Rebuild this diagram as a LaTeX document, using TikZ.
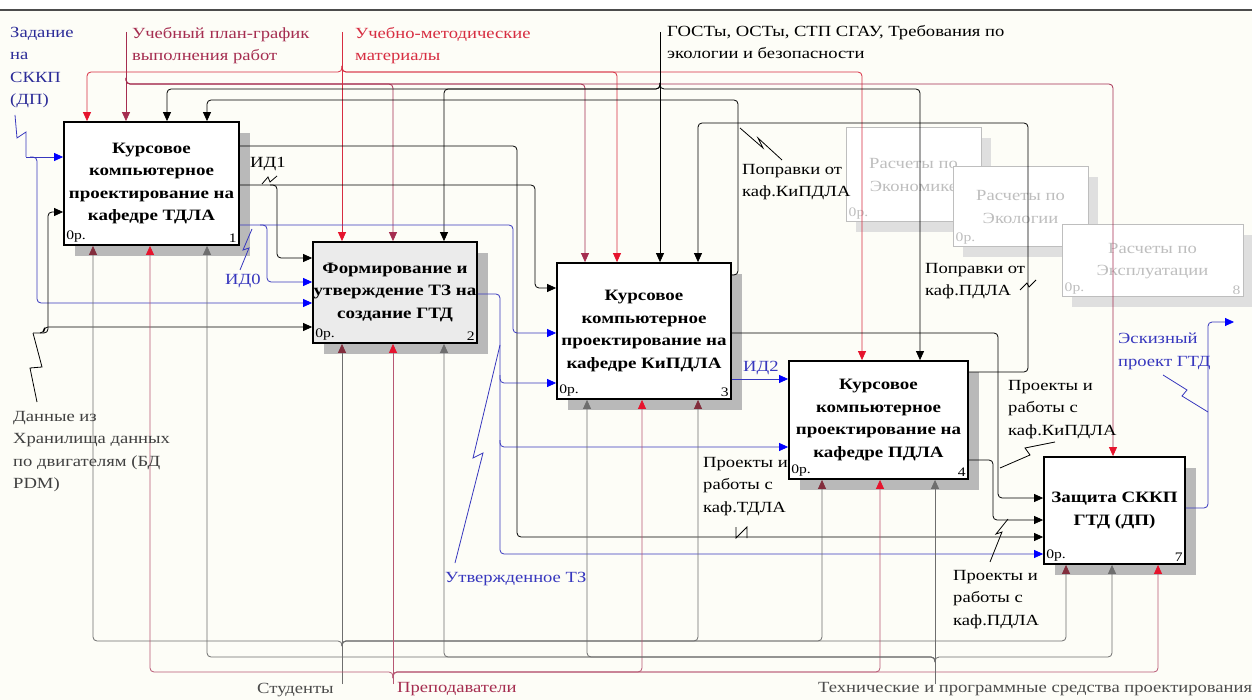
\documentclass[tikz,border=0pt]{standalone}
\usepackage{fontspec}
\setmainfont{Liberation Serif}[FakeStretch=1.2]
\usetikzlibrary{arrows.meta,shadows}

\definecolor{idred}{RGB}{215,45,65}
\definecolor{idmaroon}{RGB}{165,45,80}
\definecolor{idblue}{RGB}{55,55,190}
\definecolor{idgrey}{RGB}{110,110,110}
\definecolor{idfade}{RGB}{190,190,190}
\definecolor{tipred}{RGB}{230,20,45}
\definecolor{tipbrown}{RGB}{130,45,60}
\definecolor{paper}{RGB}{253,253,247}

\tikzset{
  func/.style={draw, line width=1.8pt, fill=white, align=center, inner sep=0pt,
    font=\fontsize{15.8}{22.5}\selectfont\bfseries,
    drop shadow={shadow xshift=11pt, shadow yshift=-11pt, fill=gray!55, opacity=1}},
  ghost/.style={draw=idfade, line width=1pt, fill=white, align=center, inner sep=0pt,
    text=idfade, drop shadow={shadow xshift=10pt, shadow yshift=-10pt, fill=gray!25, opacity=1}},
  corner/.style={font=\fontsize{13}{15}\selectfont, inner sep=3pt},
  lbl/.style={anchor=north west, inner sep=0pt, align=left},
  link/.style={line width=0.8pt, rounded corners=4pt},
  ahead/.style={link, -{Triangle[length=9pt,width=8pt,color=#1]}},
  squig/.style={line width=0.8pt},
}

\begin{document}
\begin{tikzpicture}[x=1pt, y=-1pt, font=\fontsize{15.5}{22.5}\selectfont]
\useasboundingbox (0,0) rectangle (1252,700);
\fill[paper] (0,10) rectangle (1252,700);
\draw[gray!60!black, line width=1.2pt] (0,10) -- (1252,10);

% decomposition boxes not in this diagram
\node[ghost, minimum width=135pt, minimum height=94pt] (calcA) at (913.5,175) {Расчеты по\\Экономике};
\node[corner, text=idfade, anchor=south west] (calcAp) at (calcA.south west) {0р.};
\node[corner, text=idfade, anchor=south east] (calcAn) at (calcA.south east) {5};
\node[ghost, minimum width=135pt, minimum height=80pt] (calcB) at (1020.5,207) {Расчеты по\\Экологии};
\node[corner, text=idfade, anchor=south west] (calcBp) at (calcB.south west) {0р.};
\node[corner, text=idfade, anchor=south east] (calcBn) at (calcB.south east) {6};
\node[ghost, minimum width=181pt, minimum height=72pt] (calcC) at (1152.5,261) {Расчеты по\\Эксплуатации};
\node[corner, text=idfade, anchor=south west] (calcCp) at (calcC.south west) {0р.};
\node[corner, text=idfade, anchor=south east] (calcCn) at (calcC.south east) {8};

% functions
\node[func, minimum width=175pt, minimum height=123pt] (tdla) at (151.5,183.5) {Курсовое\\компьютерное\\проектирование на\\кафедре ТДЛА};
\node[func, fill=gray!16, minimum width=164pt, minimum height=101pt] (tz) at (395,292.5) {Формирование и\\утверждение ТЗ на\\создание ГТД};
\node[func, minimum width=174pt, minimum height=136pt] (kipdla) at (644,331) {Курсовое\\компьютерное\\проектирование на\\кафедре КиПДЛА};
\node[func, minimum width=179pt, minimum height=118pt] (pdla) at (878.5,420) {Курсовое\\компьютерное\\проектирование на\\кафедре ПДЛА};
\node[func, minimum width=141pt, minimum height=107pt] (zashita) at (1114.5,510.5) {Защита СККП\\ГТД (ДП)};
\foreach \b/\n in {tdla/1, tz/2, kipdla/3, pdla/4, zashita/7} {
  \node[corner, anchor=south west] (\b p) at (\b.south west) {0р.};
  \node[corner, anchor=south east] (\b n) at (\b.south east) {\n};
}

% controls
\draw[ahead=idmaroon, idmaroon] (126,32) -- (tdla.north -| 126,0);
\draw[ahead=idmaroon, idmaroon] (126,78) |- (393,84) -- (tz.north -| 393,0);
\draw[ahead=idmaroon, idmaroon] (126,78) |- (585,84) -- (kipdla.north -| 585,0);
\draw[ahead=tipred, idmaroon] (126,78) |- (1113,84) -- (zashita.north -| 1113,0);
\draw[ahead=tipred, idred] (342,32) -- (tz.north -| 342,0);
\draw[ahead=tipred, idred] (342,66) |- (87,72) -- (tdla.north -| 87,0);
\draw[ahead=tipred, idred] (342,66) |- (617,72) -- (kipdla.north -| 617,0);
\draw[ahead=tipred, idred] (342,66) |- (862,72) -- (pdla.north -| 862,0);
\draw[ahead=black] (660,32) -- (kipdla.north -| 660,0);
\draw[ahead=black] (660,83) |- (167,89) -- (tdla.north -| 167,0);
\draw[ahead=black] (660,83) |- (444,89) -- (tz.north -| 444,0);
\draw[ahead=black] (660,83) |- (920,89) -- (pdla.north -| 920,0);

% feedback
\draw[ahead=black] (kipdla.east |- 0,275) -| (738,100) -| (tdla.north -| 207,0);
\draw[ahead=black] (pdla.east |- 0,372) -| (1028,123) -| (kipdla.north -| 698,0);

% inputs from outside
\draw[squig, idblue] (15,115) -- (17,138) -- (26,132) -- (26,157);
\draw[ahead=blue, idblue] (26,157) -- (tdla.west |- 0,157);
\draw[ahead=blue, idblue] (30,157) -| (37,303) -- (tz.west |- 0,303);
\draw[squig] (37,402) -- (30,368) -- (42,367) -- (33,333);
\draw[ahead=black] (33,333) -| (48,212) -- (tdla.west |- 0,212);
\draw[ahead=black] (40,333) -- (44,333) |- (tz.west |- 0,327);

% outputs and links
\draw[ahead=black] (tdla.east |- 0,146) -| (517,537) -- (zashita.west |- 0,537);
\draw[ahead=black] (tdla.east |- 0,185) -| (535,288) -- (kipdla.west |- 0,288);
\draw[ahead=black] (270,185) -| (277,258) -- (tz.west |- 0,258);
\draw[ahead=blue, idblue] (tdla.east |- 0,225) -| (513,333) -- (kipdla.west |- 0,333);
\draw[ahead=blue, idblue] (260,225) -| (267,282) -- (tz.west |- 0,282);
\draw[ahead=blue, idblue] (tz.east |- 0,294) -| (500,383) -- (kipdla.west |- 0,383);
\draw[ahead=blue, idblue] (500,375) |- (pdla.west |- 0,447);
\draw[ahead=blue, idblue] (500,440) |- (zashita.west |- 0,554);
\draw[ahead=black] (kipdla.east |- 0,333) -| (998,498) -- (zashita.west |- 0,498);
\draw[ahead=blue, idblue] (kipdla.east |- 0,379) -- (pdla.west |- 0,379);
\draw[ahead=black] (pdla.east |- 0,460) -| (993,520) -- (zashita.west |- 0,520);
\coordinate (eskiz) at (1234,322);
\draw[ahead=blue, idblue] (zashita.east |- 0,508) -| (1208,322) -- (eskiz);

% mechanisms
\draw[ahead=tipbrown, idgrey] (342,684) -- (tz.south -| 342,0);
\draw[ahead=tipbrown, idgrey] (342,646) |- (93,641) -- (tdla.south -| 93,0);
\draw[ahead=tipbrown, idgrey] (342,646) |- (698,641) -- (kipdla.south -| 698,0);
\draw[ahead=tipbrown, idgrey] (342,646) |- (822,641) -- (pdla.south -| 822,0);
\draw[ahead=tipbrown, idgrey] (342,646) |- (1066,641) -- (zashita.south -| 1066,0);
\draw[ahead=tipred, idmaroon!80] (393,684) -- (tz.south -| 393,0);
\draw[ahead=tipred, idmaroon!80] (393,678) |- (150,672) -- (tdla.south -| 150,0);
\draw[ahead=tipred, idmaroon!80] (393,678) |- (642,672) -- (kipdla.south -| 642,0);
\draw[ahead=tipred, idmaroon!80] (393,678) |- (880,672) -- (pdla.south -| 880,0);
\draw[ahead=tipred, idmaroon!80] (393,678) |- (1158,672) -- (zashita.south -| 1158,0);
\draw[ahead=idgrey, idgrey] (935,684) -- (pdla.south -| 935,0);
\draw[ahead=idgrey, idgrey] (935,662) |- (207,657) -- (tdla.south -| 207,0);
\draw[ahead=idgrey, idgrey] (935,662) |- (444,657) -- (tz.south -| 444,0);
\draw[ahead=idgrey, idgrey] (935,662) |- (587,657) -- (kipdla.south -| 587,0);
\draw[ahead=idgrey, idgrey] (935,662) |- (1112,657) -- (zashita.south -| 1112,0);

% label squiggles
\draw[squig] (262,184) -- (268,177) -- (270,182) -- (277,176);
\draw[squig, idblue] (240,270) -- (249,248) -- (243,250) -- (252,229);
\draw[squig] (740,128) -- (763,148) -- (758,138) -- (782,160);
\draw[squig] (1020,290) -- (1027,283) -- (1029,287) -- (1036,280);
\draw[squig, idblue] (1163,375) -- (1187,390) -- (1182,396) -- (1208,412);
\draw[squig] (1000,468) -- (1030,455) -- (1025,448) -- (1055,442);
\draw[squig] (990,562) -- (1002,532) -- (996,534) -- (1008,519);
\draw[squig, idblue] (455,563) -- (483,453) -- (473,458) -- (500,345);
\draw[squig] (736,527) -- (736,538) -- (747,527) -- (747,538);

% labels
\node[lbl, text=idblue!80!black] (zadanie) at (10,27) {Задание\\на\\СККП\\(ДП)};
\node[lbl, text=idmaroon] (plan) at (132,27) {Учебный план-график\\выполнения работ};
\node[lbl, text=idred] (metod) at (355,27) {Учебно-методические\\материалы};
\node[lbl] (gost) at (667,25) {ГОСТы, ОСТы, СТП СГАУ, Требования по\\экологии и безопасности};
\node[lbl, text=black!75] (dannye) at (13,411) {Данные из\\Хранилища данных\\по двигателям (БД\\PDM)};
\node[lbl] (popr1) at (742,164) {Поправки от\\каф.КиПДЛА};
\node[lbl] (popr2) at (925,263) {Поправки от\\каф.ПДЛА};
\node[lbl, text=idblue] (eskizl) at (1118,333) {Эскизный\\проект ГТД};
\node[lbl] (proj1) at (1008,380) {Проекты и\\работы с\\каф.КиПДЛА};
\node[lbl] (proj2) at (953,570) {Проекты и\\работы с\\каф.ПДЛА};
\node[lbl] (proj3) at (703,457) {Проекты и\\работы с\\каф.ТДЛА};
\node[lbl, text=idblue] (utv) at (445,572) {Утвержденное ТЗ};
\node[lbl, text=black!70] (stud) at (257,683) {Студенты};
\node[lbl, text=idmaroon] (prep) at (397,682) {Преподаватели};
\node[lbl, text=black!70] (tech) at (818,682) {Технические и программные средства проектирования};
\node[lbl, text=idblue] (id0) at (225,274) {ИД0};
\node[lbl] (id1) at (250,157) {ИД1};
\node[lbl, text=idblue] (id2) at (743,361) {ИД2};
\end{tikzpicture}
\end{document}
